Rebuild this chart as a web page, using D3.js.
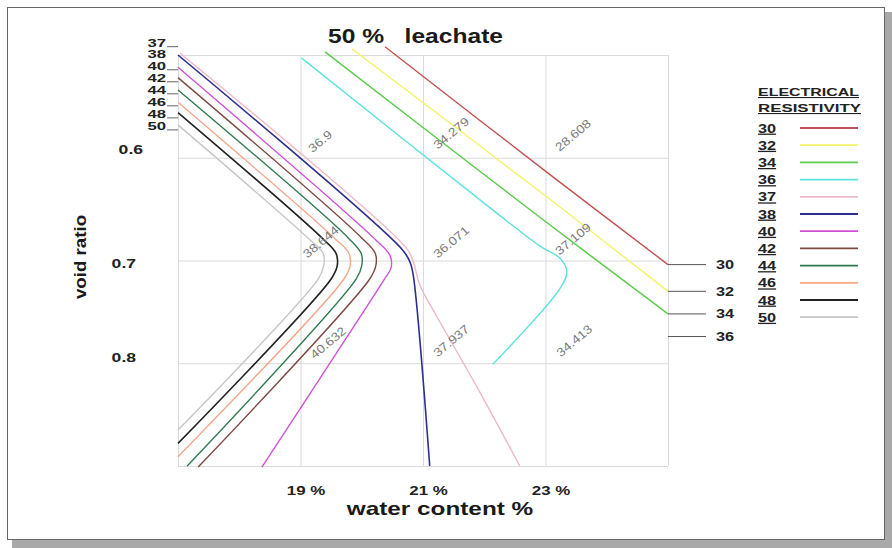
<!DOCTYPE html>
<html>
<head>
<meta charset="utf-8">
<script src="https://cdn.jsdelivr.net/npm/d3@7"></script>
<style>
  body { margin: 0; background: #fff; }
  svg text { font-family: "Liberation Sans", Arial, sans-serif; }
</style>
</head>
<body>
<svg id="chart" width="892" height="548"></svg>
<script>
// electrical resistivity contour levels + colours
const levels = [30, 32, 34, 36, 37, 38, 40, 42, 44, 46, 48, 50];
const levelColors = ["#c25252", "#f3f36a", "#5acb4a", "#5ee2de", "#eeb8c8", "#2e2e8e",
  "#cf52d6", "#7e4a44", "#2f7a52", "#f2a88c", "#222222", "#c6c6c6"];

// contour traces, [water content %, void ratio]
const r30 = [[20.38, 0.492], [23.02, 0.614], [25.0, 0.704]];
const r32 = [[19.84, 0.494], [23.02, 0.638], [25.0, 0.730]];
const r34 = [[19.40, 0.497], [23.02, 0.663], [25.0, 0.752]];
const r36 = [[19.02, 0.503], [21.93, 0.641], [22.91, 0.686], [23.24, 0.698], [23.35, 0.711], [23.24, 0.727], [22.14, 0.801]];
const r37 = [[17.03, 0.498], [20.73, 0.688], [20.84, 0.701], [20.95, 0.724], [21.23, 0.755], [21.88, 0.823], [22.58, 0.900]];
const r38 = [[17.00, 0.500], [20.67, 0.690], [20.79, 0.702], [20.84, 0.714], [21.11, 0.900]];
const r40 = [[17.00, 0.512], [20.23, 0.680], [20.46, 0.695], [20.48, 0.707], [20.36, 0.719], [19.73, 0.777], [18.37, 0.901]];
const r42 = [[17.00, 0.522], [20.00, 0.678], [20.22, 0.693], [20.23, 0.705], [20.13, 0.718], [17.33, 0.901]];
const r44 = [[17.00, 0.534], [19.78, 0.678], [19.99, 0.693], [20.00, 0.705], [19.91, 0.718], [17.15, 0.900]];
const r46 = [[17.00, 0.546], [19.55, 0.678], [19.79, 0.693], [19.81, 0.705], [19.71, 0.718], [17.00, 0.891]];
const r48 = [[17.00, 0.556], [19.35, 0.678], [19.58, 0.693], [19.60, 0.705], [19.50, 0.718], [17.00, 0.878]];
const r50 = [[17.00, 0.568], [19.12, 0.678], [19.37, 0.693], [19.38, 0.705], [19.29, 0.718], [17.00, 0.865]];
const traces = [r30, r32, r34, r36, r37, r38, r40, r42, r44, r46, r48, r50];

// inline contour values and where they sit
const valueLabels = ["36.9", "34.279", "28.608", "38.644", "36.071", "37.109", "40.632", "37.937", "34.413"];
const valueLabelPos = [[19.32, 0.584], [21.46, 0.576], [23.45, 0.578], [19.33, 0.682], [21.46, 0.682],
  [23.45, 0.679], [19.45, 0.780], [21.46, 0.778], [23.47, 0.778]];

// end tags on the right border (level, void ratio)
const rightTags = [30, 32, 34, 36];
const rightTagRatio = [0.704, 0.730, 0.752, 0.774];

// start tags on the left border (level, void ratio of the tag)
const leftTags = [37, 38, 40, 42, 44, 46, 48, 50];
const leftTagRatio = [0.488, 0.4985, 0.5105, 0.5222, 0.5339, 0.5456, 0.5573, 0.569];

const xTicks = [19, 21, 23];
const yTicks = [0.6, 0.7, 0.8];
const xGrid = [17, 19, 21, 23, 25];
const yGrid = [0.5, 0.6, 0.7, 0.8, 0.9];

const svg = d3.select("#chart");

// stretch text a bit wider, the scan is squashed
function stretch(sel, k) {
  sel.each(function () {
    const w = this.getComputedTextLength();
    d3.select(this).attr("textLength", w * k).attr("lengthAdjust", "spacingAndGlyphs");
  });
}

// frame + shadow
svg.append("rect").attr("x", 12).attr("y", 540).attr("width", 880).attr("height", 8).attr("fill", "#a9a9a9");
svg.append("rect").attr("x", 885).attr("y", 12).attr("width", 7).attr("height", 536).attr("fill", "#a9a9a9");
svg.append("rect")
  .attr("x", 7.5).attr("y", 7.5).attr("width", 877).attr("height", 532)
  .attr("fill", "#fff").attr("stroke", "#666").attr("stroke-width", 1);

const x = d3.scaleLinear().domain([17, 25]).range([178, 668]);
const y = d3.scaleLinear().domain([0.5, 0.9]).range([55, 466]);

// grid
svg.append("g")
  .attr("transform", "translate(0,466)")
  .call(d3.axisBottom(x).tickValues(xGrid).tickSize(-411).tickFormat(""))
  .call(function (g) { g.select(".domain").remove(); })
  .selectAll("line").attr("stroke", "#dadada");

svg.append("g")
  .attr("transform", "translate(178,0)")
  .call(d3.axisLeft(y).tickValues(yGrid).tickSize(-490).tickFormat(""))
  .call(function (g) { g.select(".domain").remove(); })
  .selectAll("line").attr("stroke", "#dadada");

// tick labels
const xAxis = svg.append("g")
  .attr("transform", "translate(0,466)")
  .call(d3.axisBottom(x).tickValues(xTicks).tickSize(0).tickPadding(20).tickFormat(function (d) { return d + " %"; }));
xAxis.select(".domain").remove();
xAxis.selectAll("text")
  .attr("dx", 5)
  .attr("font-size", 13).attr("font-weight", "bold").attr("fill", "#222")
  .call(stretch, 1.3);

// the scanned y labels sit a little off their grid lines
const yShift = { "0.6": -8, "0.7": 3, "0.8": -6 };
const yAxis = svg.append("g")
  .attr("transform", "translate(178,0)")
  .call(d3.axisLeft(y).tickValues(yTicks).tickSize(0).tickPadding(42).tickFormat(d3.format(".1f")));
yAxis.select(".domain").remove();
yAxis.selectAll("text")
  .attr("y", function (d) { return yShift[d3.format(".1f")(d)]; })
  .attr("x", function (d) { return d === 0.6 ? -35 : -42; })
  .attr("font-size", 13).attr("font-weight", "bold").attr("fill", "#222")
  .call(stretch, 1.35);

// contour lines
const line = d3.line()
  .x(function (d) { return x(d[0]); })
  .y(function (d) { return y(d[1]); })
  .curve(d3.curveCatmullRom.alpha(0.5));

svg.append("g").selectAll("path")
  .data(traces)
  .enter()
  .append("path")
  .attr("fill", "none")
  .attr("stroke", function (d, i) { return levelColors[i]; })
  .attr("stroke-width", function (d, i) { return i === 5 || i === 10 ? 1.6 : 1.4; })
  .attr("d", function (d) { return line(d); });

// contour value labels
svg.append("g").selectAll("text")
  .data(valueLabels)
  .enter()
  .append("text")
  .attr("transform", function (d, i) {
    return "translate(" + x(valueLabelPos[i][0]) + "," + y(valueLabelPos[i][1]) + ") rotate(-40)";
  })
  .attr("text-anchor", "middle")
  .attr("dy", "0.35em")
  .attr("font-size", 12)
  .attr("fill", "#7a7a7a")
  .text(function (d) { return d; })
  .call(stretch, 1.15);

// left start tags (levels 37 .. 50), leader to each line start
const leftG = svg.append("g");
leftG.selectAll("line")
  .data(leftTags)
  .enter()
  .append("line")
  .attr("x1", 167).attr("x2", 178)
  .attr("y1", function (d, i) { return y(leftTagRatio[i]) + 4; })
  .attr("y2", function (d, i) { return y(leftTagRatio[i]) + 4; })
  .attr("stroke", "#666").attr("stroke-width", 1)
  .attr("opacity", function (d) { return d === 38 ? 0 : 1; });
leftG.selectAll("text")
  .data(leftTags)
  .enter()
  .append("text")
  .attr("x", 166)
  .attr("y", function (d, i) { return y(leftTagRatio[i]); })
  .attr("dy", "0.36em")
  .attr("text-anchor", "end")
  .attr("font-size", 11.5).attr("font-weight", "bold").attr("fill", "#222")
  .text(function (d) { return d; })
  .call(stretch, 1.45);

// right end tags (30 .. 36)
const rightG = svg.append("g");
rightG.selectAll("line")
  .data(rightTags)
  .enter()
  .append("line")
  .attr("x1", 668).attr("x2", 706)
  .attr("y1", function (d, i) { return y(rightTagRatio[i]); })
  .attr("y2", function (d, i) { return y(rightTagRatio[i]); })
  .attr("stroke", "#555").attr("stroke-width", 1);
rightG.selectAll("text")
  .data(rightTags)
  .enter()
  .append("text")
  .attr("x", 716)
  .attr("y", function (d, i) { return y(rightTagRatio[i]); })
  .attr("dy", "0.35em")
  .attr("font-size", 13).attr("font-weight", "bold").attr("fill", "#222")
  .text(function (d) { return d; })
  .call(stretch, 1.25);

// legend
const legend = svg.append("g").attr("transform", "translate(758,0)");
legend.append("text")
  .attr("x", 0).attr("y", 96)
  .attr("font-size", 11).attr("font-weight", "bold").attr("fill", "#222")
  .style("text-decoration", "underline")
  .attr("textLength", 101).attr("lengthAdjust", "spacingAndGlyphs")
  .text("ELECTRICAL");
legend.append("text")
  .attr("x", 0).attr("y", 112)
  .attr("font-size", 11).attr("font-weight", "bold").attr("fill", "#222")
  .style("text-decoration", "underline")
  .attr("textLength", 103).attr("lengthAdjust", "spacingAndGlyphs")
  .text("RESISTIVITY");

const entry = legend.selectAll("g.entry")
  .data(levels)
  .enter()
  .append("g")
  .attr("class", "entry")
  .attr("transform", function (d, i) { return "translate(0," + (128 + i * 17.2) + ")"; });
entry.append("text")
  .attr("dy", "0.35em")
  .attr("font-size", 13).attr("font-weight", "bold").attr("fill", "#222")
  .style("text-decoration", "underline")
  .text(function (d) { return d; })
  .call(stretch, 1.25);
entry.append("line")
  .attr("x1", 42).attr("x2", 100)
  .attr("stroke", function (d, i) { return levelColors[i]; })
  .attr("stroke-width", 1.8);

// titles
svg.append("text")
  .attr("x", 328).attr("y", 43)
  .attr("font-size", 21).attr("font-weight", "bold").attr("fill", "#1a1a1a")
  .attr("textLength", 175).attr("lengthAdjust", "spacingAndGlyphs")
  .text("50 %\u00a0\u00a0\u00a0leachate");

svg.append("text")
  .attr("x", 440).attr("y", 515)
  .attr("text-anchor", "middle")
  .attr("font-size", 19).attr("font-weight", "bold").attr("fill", "#1a1a1a")
  .text("water content %")
  .call(stretch, 1.28);

svg.append("text")
  .attr("transform", "translate(86,257) rotate(-90)")
  .attr("text-anchor", "middle")
  .attr("font-size", 17).attr("font-weight", "bold").attr("fill", "#1a1a1a")
  .text("void ratio")
  .call(stretch, 1.1);
</script>
</body>
</html>
